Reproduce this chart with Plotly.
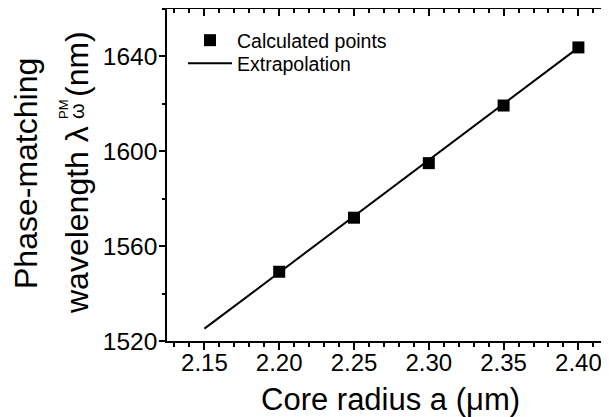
import plotly.graph_objects as go

# Data
core_radius = [2.20, 2.25, 2.30, 2.35, 2.40]
wavelength_pm = [1549.2, 1572.0, 1595.0, 1619.3, 1643.8]
fit_radius = [2.15, 2.40]
fit_wavelength = [1525.2, 1643.7]

x_ticks = [2.15, 2.20, 2.25, 2.30, 2.35, 2.40]
x_tick_text = ["2.15", "2.20", "2.25", "2.30", "2.35", "2.40"]
y_ticks = [1520, 1560, 1600, 1640]

FONT = "Liberation Sans, Arial, sans-serif"
OFF = 8  # browser body margin
W, H = 609 - OFF, 417 - OFF
L, R, T, B = 159, 0, 1, 76
PW, PH = W - L - R, H - T - B


def py2paper(py):  # page pixel y -> paper y
    return (H - B - (py - OFF)) / PH


def px2paper(px):  # page pixel x -> paper x
    return (px - OFF - L) / PW


fig = go.Figure()
fig.add_trace(go.Scatter(
    x=core_radius, y=wavelength_pm, mode="markers", name="Calculated points",
    marker=dict(symbol="square", size=12, color="black"), legend="legend",
))
fig.add_trace(go.Scatter(
    x=fit_radius, y=fit_wavelength, mode="lines", name="Extrapolation",
    line=dict(color="black", width=2), legend="legend2",
))
# invisible trace for mirrored axes
fig.add_trace(go.Scatter(x=fit_radius, y=fit_wavelength, xaxis="x2", yaxis="y2",
                         mode="lines", line=dict(width=0), showlegend=False,
                         hoverinfo="skip", opacity=0))

xr = [2.125, 2.125 + PW / 74.8 * 0.05]
yr = [1520, 1660]

leg_common = dict(xanchor="left", yanchor="top", font=dict(size=19.5, family=FONT),
                  bgcolor="rgba(0,0,0,0)", borderwidth=0, itemwidth=44)

fig.update_layout(
    width=W, height=H,
    margin=dict(l=L, r=R, t=T, b=B),
    paper_bgcolor="white", plot_bgcolor="white",
    font=dict(family=FONT, color="black"),
    showlegend=True,
    legend=dict(x=px2paper(183), y=py2paper(21), **leg_common),
    legend2=dict(x=px2paper(183), y=py2paper(44), **leg_common),
    xaxis=dict(range=xr, tickvals=x_ticks, ticktext=x_tick_text, ticks="outside",
               ticklen=7, tickwidth=1.5, tickcolor="black", showline=True,
               linecolor="black", linewidth=1.5, showgrid=False, zeroline=False,
               tickfont=dict(size=24, family=FONT), ticklabelstandoff=-8,
               minor=dict(dtick=0.01, ticks="outside", ticklen=4, tickwidth=1.5,
                          tickcolor="black", showgrid=False)),
    yaxis=dict(range=yr, tickvals=y_ticks, ticks="outside", ticklen=6, tickwidth=1.5,
               tickcolor="black", showline=True, linecolor="black", linewidth=1.5,
               showgrid=False, zeroline=False, tickfont=dict(size=24.5, family=FONT),
               ticklabelstandoff=-3,
               minor=dict(dtick=20, ticks="outside", ticklen=3, tickwidth=1.5,
                          tickcolor="black", showgrid=False)),
    xaxis2=dict(range=xr, overlaying="x", side="top", tickvals=x_ticks, ticks="inside",
                ticklen=7, tickwidth=1.5, tickcolor="black", showline=True,
                linecolor="black", linewidth=1.5, showticklabels=False, showgrid=False,
                zeroline=False,
                minor=dict(dtick=0.01, ticks="inside", ticklen=4, tickwidth=1.5,
                           tickcolor="black", showgrid=False)),
    yaxis2=dict(range=yr, overlaying="y", side="right", tickvals=y_ticks, ticks="inside",
                ticklen=2, tickwidth=1.5, tickcolor="black", showline=False,
                showticklabels=False, showgrid=False, zeroline=False),
)

ann = []
# x-axis title
ann.append(dict(text="Core radius a (μm)", xref="paper", yref="paper",
                x=px2paper(390), y=py2paper(399), xanchor="center", yanchor="middle",
                showarrow=False, font=dict(size=31, family=FONT)))
# y-axis title, line 1
ann.append(dict(text="Phase-matching", xref="paper", yref="paper", x=0, xshift=26 - 167,
                y=py2paper(174), xanchor="center", yanchor="middle", textangle=-90,
                showarrow=False, font=dict(size=32, family=FONT)))
# y-axis title, line 2 pieces
ann.append(dict(text="wavelength λ", xref="paper", yref="paper", x=0, xshift=77 - 167,
                y=py2paper(124), xanchor="center", yanchor="top", textangle=-90,
                showarrow=False, font=dict(size=32, family=FONT)))
ann.append(dict(text="PM", xref="paper", yref="paper", x=0, xshift=64 - 167,
                y=py2paper(121), xanchor="center", yanchor="bottom", textangle=-90,
                showarrow=False, font=dict(size=13, family=FONT)))
ann.append(dict(text="ω", xref="paper", yref="paper", x=0, xshift=77 - 167,
                y=py2paper(121), xanchor="center", yanchor="bottom", textangle=-90,
                showarrow=False, font=dict(size=20, family=FONT)))
ann.append(dict(text="(nm)", xref="paper", yref="paper", x=0, xshift=77 - 167,
                y=py2paper(99), xanchor="center", yanchor="bottom", textangle=-90,
                showarrow=False, font=dict(size=32, family=FONT)))
fig.update_layout(annotations=ann)

fig.write_html("out.html")
